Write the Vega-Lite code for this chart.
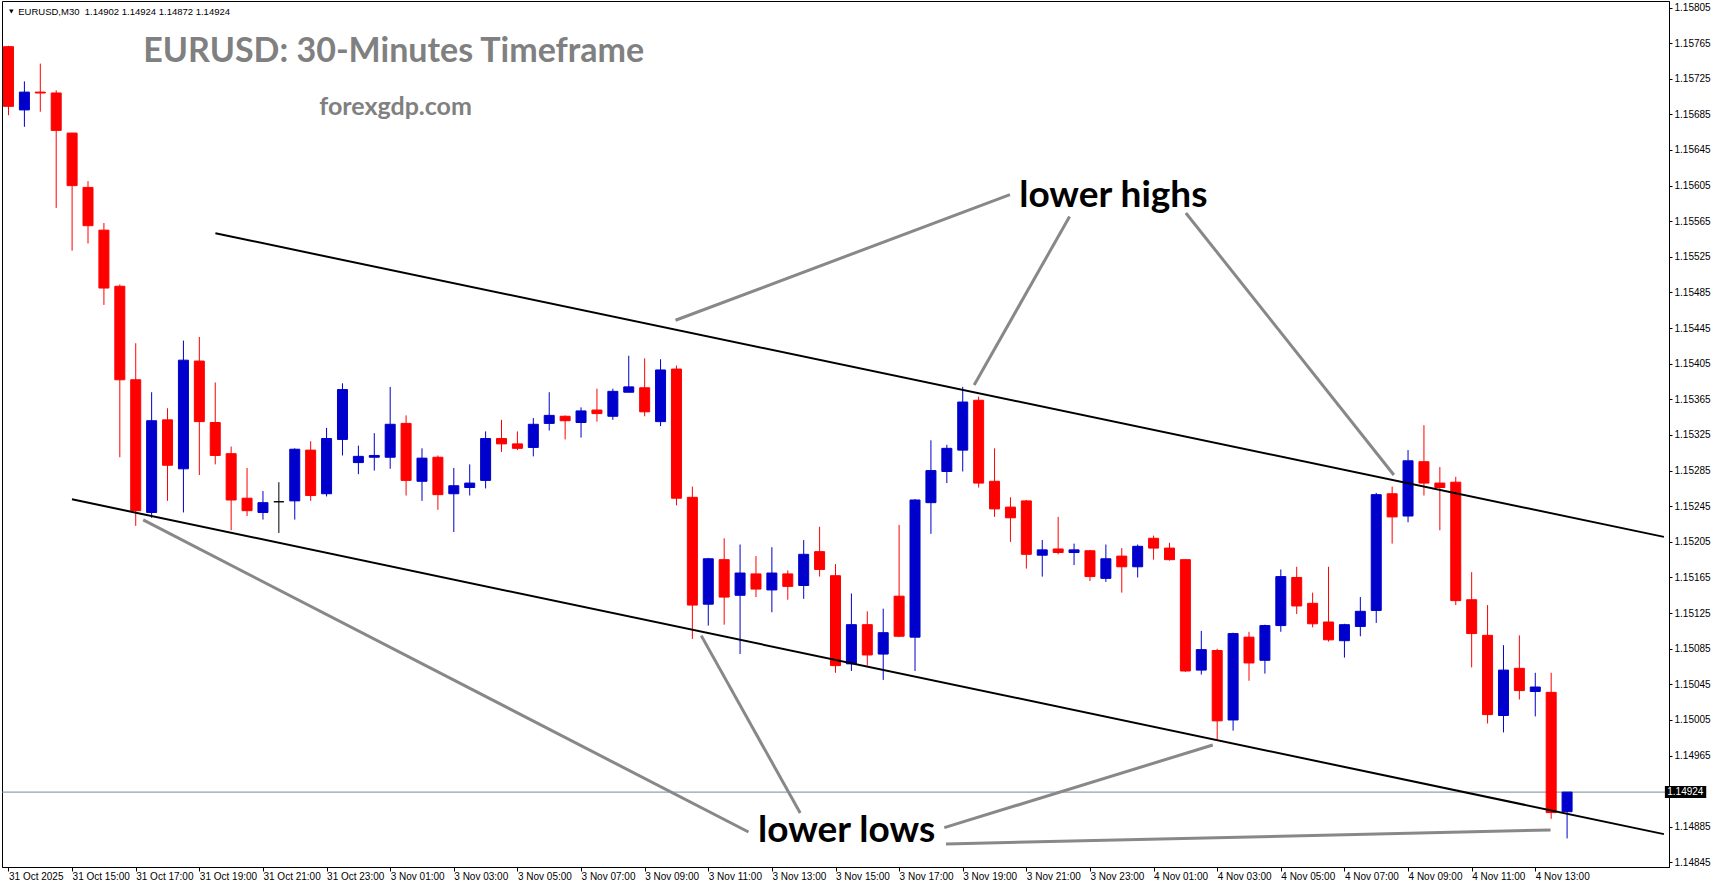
{
  "$schema": "https://vega.github.io/schema/vega-lite/v6.json",
  "width": 1667,
  "height": 866,
  "autosize": {"type": "none"},
  "padding": {"left": 2, "top": 1, "right": 45, "bottom": 21},
  "background": "#ffffff",
  "config": {
    "view": {"stroke": "#000000", "strokeWidth": 1},
    "axis": {"labelFont": "Liberation Sans", "labelFontSize": 9.5, "labelColor": "#000000", "tickColor": "#000000", "domainColor": "#000000", "grid": false, "labelOverlap": false, "labelFlush": false, "labelBound": false, "tickWidth": 1, "domainWidth": 1}
  },
  "datasets": {
    "candles": [
      {"i":0,"t":"2025-10-31 13:00","o":1.15761,"h":1.15762,"l":1.15684,"c":1.15694},
      {"i":1,"t":"2025-10-31 13:30","o":1.15690,"h":1.15722,"l":1.15671,"c":1.15710},
      {"i":2,"t":"2025-10-31 14:00","o":1.15710,"h":1.15742,"l":1.15688,"c":1.15709},
      {"i":3,"t":"2025-10-31 14:30","o":1.15709,"h":1.15712,"l":1.15580,"c":1.15667},
      {"i":4,"t":"2025-10-31 15:00","o":1.15664,"h":1.15664,"l":1.15532,"c":1.15605},
      {"i":5,"t":"2025-10-31 15:30","o":1.15603,"h":1.15610,"l":1.15540,"c":1.15560},
      {"i":6,"t":"2025-10-31 16:00","o":1.15555,"h":1.15563,"l":1.15471,"c":1.15490},
      {"i":7,"t":"2025-10-31 16:30","o":1.15492,"h":1.15494,"l":1.15300,"c":1.15387},
      {"i":8,"t":"2025-10-31 17:00","o":1.15387,"h":1.15428,"l":1.15223,"c":1.15240},
      {"i":9,"t":"2025-10-31 17:30","o":1.15238,"h":1.15373,"l":1.15232,"c":1.15341},
      {"i":10,"t":"2025-10-31 18:00","o":1.15342,"h":1.15355,"l":1.15251,"c":1.15291},
      {"i":11,"t":"2025-10-31 18:30","o":1.15287,"h":1.15431,"l":1.15238,"c":1.15409},
      {"i":12,"t":"2025-10-31 19:00","o":1.15408,"h":1.15435,"l":1.15280,"c":1.15340},
      {"i":13,"t":"2025-10-31 19:30","o":1.15339,"h":1.15384,"l":1.15292,"c":1.15302},
      {"i":14,"t":"2025-10-31 20:00","o":1.15304,"h":1.15312,"l":1.15218,"c":1.15252},
      {"i":15,"t":"2025-10-31 20:30","o":1.15254,"h":1.15288,"l":1.15234,"c":1.15240},
      {"i":16,"t":"2025-10-31 21:00","o":1.15238,"h":1.15262,"l":1.15230,"c":1.15249},
      {"i":17,"t":"2025-10-31 21:30","o":1.15250,"h":1.15272,"l":1.15215,"c":1.15250},
      {"i":18,"t":"2025-10-31 22:00","o":1.15251,"h":1.15310,"l":1.15230,"c":1.15309},
      {"i":19,"t":"2025-10-31 22:30","o":1.15308,"h":1.15318,"l":1.15251,"c":1.15257},
      {"i":20,"t":"2025-10-31 23:00","o":1.15259,"h":1.15333,"l":1.15256,"c":1.15321},
      {"i":21,"t":"2025-10-31 23:30","o":1.15320,"h":1.15383,"l":1.15302,"c":1.15376},
      {"i":22,"t":"2025-11-03 00:00","o":1.15294,"h":1.15313,"l":1.15281,"c":1.15301},
      {"i":23,"t":"2025-11-03 00:30","o":1.15300,"h":1.15327,"l":1.15285,"c":1.15302},
      {"i":24,"t":"2025-11-03 01:00","o":1.15300,"h":1.15379,"l":1.15287,"c":1.15337},
      {"i":25,"t":"2025-11-03 01:30","o":1.15338,"h":1.15347,"l":1.15257,"c":1.15274},
      {"i":26,"t":"2025-11-03 02:00","o":1.15273,"h":1.15310,"l":1.15251,"c":1.15299},
      {"i":27,"t":"2025-11-03 02:30","o":1.15300,"h":1.15302,"l":1.15241,"c":1.15258},
      {"i":28,"t":"2025-11-03 03:00","o":1.15259,"h":1.15288,"l":1.15216,"c":1.15268},
      {"i":29,"t":"2025-11-03 03:30","o":1.15266,"h":1.15292,"l":1.15257,"c":1.15271},
      {"i":30,"t":"2025-11-03 04:00","o":1.15274,"h":1.15329,"l":1.15265,"c":1.15321},
      {"i":31,"t":"2025-11-03 04:30","o":1.15321,"h":1.15342,"l":1.15306,"c":1.15315},
      {"i":32,"t":"2025-11-03 05:00","o":1.15315,"h":1.15329,"l":1.15308,"c":1.15310},
      {"i":33,"t":"2025-11-03 05:30","o":1.15311,"h":1.15344,"l":1.15301,"c":1.15337},
      {"i":34,"t":"2025-11-03 06:00","o":1.15338,"h":1.15373,"l":1.15330,"c":1.15347},
      {"i":35,"t":"2025-11-03 06:30","o":1.15346,"h":1.15347,"l":1.15320,"c":1.15341},
      {"i":36,"t":"2025-11-03 07:00","o":1.15339,"h":1.15356,"l":1.15322,"c":1.15352},
      {"i":37,"t":"2025-11-03 07:30","o":1.15353,"h":1.15377,"l":1.15340,"c":1.15349},
      {"i":38,"t":"2025-11-03 08:00","o":1.15346,"h":1.15377,"l":1.15342,"c":1.15374},
      {"i":39,"t":"2025-11-03 08:30","o":1.15373,"h":1.15414,"l":1.15373,"c":1.15379},
      {"i":40,"t":"2025-11-03 09:00","o":1.15378,"h":1.15411,"l":1.15346,"c":1.15351},
      {"i":41,"t":"2025-11-03 09:30","o":1.15340,"h":1.15410,"l":1.15335,"c":1.15398},
      {"i":42,"t":"2025-11-03 10:00","o":1.15399,"h":1.15403,"l":1.15246,"c":1.15254},
      {"i":43,"t":"2025-11-03 10:30","o":1.15255,"h":1.15267,"l":1.15096,"c":1.15134},
      {"i":44,"t":"2025-11-03 11:00","o":1.15135,"h":1.15187,"l":1.15111,"c":1.15186},
      {"i":45,"t":"2025-11-03 11:30","o":1.15185,"h":1.15209,"l":1.15112,"c":1.15143},
      {"i":46,"t":"2025-11-03 12:00","o":1.15145,"h":1.15202,"l":1.15079,"c":1.15170},
      {"i":47,"t":"2025-11-03 12:30","o":1.15169,"h":1.15189,"l":1.15143,"c":1.15152},
      {"i":48,"t":"2025-11-03 13:00","o":1.15151,"h":1.15199,"l":1.15126,"c":1.15170},
      {"i":49,"t":"2025-11-03 13:30","o":1.15169,"h":1.15173,"l":1.15140,"c":1.15155},
      {"i":50,"t":"2025-11-03 14:00","o":1.15156,"h":1.15207,"l":1.15141,"c":1.15191},
      {"i":51,"t":"2025-11-03 14:30","o":1.15194,"h":1.15222,"l":1.15166,"c":1.15174},
      {"i":52,"t":"2025-11-03 15:00","o":1.15167,"h":1.15180,"l":1.15058,"c":1.15066},
      {"i":53,"t":"2025-11-03 15:30","o":1.15068,"h":1.15147,"l":1.15060,"c":1.15112},
      {"i":54,"t":"2025-11-03 16:00","o":1.15112,"h":1.15127,"l":1.15066,"c":1.15078},
      {"i":55,"t":"2025-11-03 16:30","o":1.15079,"h":1.15130,"l":1.15050,"c":1.15103},
      {"i":56,"t":"2025-11-03 17:00","o":1.15144,"h":1.15224,"l":1.15098,"c":1.15099},
      {"i":57,"t":"2025-11-03 17:30","o":1.15098,"h":1.15253,"l":1.15060,"c":1.15252},
      {"i":58,"t":"2025-11-03 18:00","o":1.15249,"h":1.15319,"l":1.15214,"c":1.15285},
      {"i":59,"t":"2025-11-03 18:30","o":1.15284,"h":1.15314,"l":1.15271,"c":1.15310},
      {"i":60,"t":"2025-11-03 19:00","o":1.15308,"h":1.15379,"l":1.15284,"c":1.15362},
      {"i":61,"t":"2025-11-03 19:30","o":1.15364,"h":1.15368,"l":1.15266,"c":1.15271},
      {"i":62,"t":"2025-11-03 20:00","o":1.15273,"h":1.15310,"l":1.15233,"c":1.15242},
      {"i":63,"t":"2025-11-03 20:30","o":1.15244,"h":1.15255,"l":1.15205,"c":1.15232},
      {"i":64,"t":"2025-11-03 21:00","o":1.15251,"h":1.15252,"l":1.15175,"c":1.15191},
      {"i":65,"t":"2025-11-03 21:30","o":1.15190,"h":1.15207,"l":1.15166,"c":1.15196},
      {"i":66,"t":"2025-11-03 22:00","o":1.15197,"h":1.15233,"l":1.15191,"c":1.15193},
      {"i":67,"t":"2025-11-03 22:30","o":1.15193,"h":1.15203,"l":1.15179,"c":1.15196},
      {"i":68,"t":"2025-11-03 23:00","o":1.15195,"h":1.15196,"l":1.15161,"c":1.15166},
      {"i":69,"t":"2025-11-03 23:30","o":1.15164,"h":1.15202,"l":1.15160,"c":1.15186},
      {"i":70,"t":"2025-11-04 00:00","o":1.15189,"h":1.15198,"l":1.15148,"c":1.15177},
      {"i":71,"t":"2025-11-04 00:30","o":1.15177,"h":1.15202,"l":1.15165,"c":1.15200},
      {"i":72,"t":"2025-11-04 01:00","o":1.15209,"h":1.15212,"l":1.15185,"c":1.15198},
      {"i":73,"t":"2025-11-04 01:30","o":1.15198,"h":1.15204,"l":1.15184,"c":1.15185},
      {"i":74,"t":"2025-11-04 02:00","o":1.15185,"h":1.15185,"l":1.15059,"c":1.15060},
      {"i":75,"t":"2025-11-04 02:30","o":1.15061,"h":1.15105,"l":1.15056,"c":1.15084},
      {"i":76,"t":"2025-11-04 03:00","o":1.15083,"h":1.15085,"l":1.14983,"c":1.15004},
      {"i":77,"t":"2025-11-04 03:30","o":1.15005,"h":1.15103,"l":1.14993,"c":1.15102},
      {"i":78,"t":"2025-11-04 04:00","o":1.15098,"h":1.15104,"l":1.15049,"c":1.15069},
      {"i":79,"t":"2025-11-04 04:30","o":1.15072,"h":1.15112,"l":1.15057,"c":1.15111},
      {"i":80,"t":"2025-11-04 05:00","o":1.15111,"h":1.15174,"l":1.15104,"c":1.15166},
      {"i":81,"t":"2025-11-04 05:30","o":1.15165,"h":1.15177,"l":1.15124,"c":1.15133},
      {"i":82,"t":"2025-11-04 06:00","o":1.15136,"h":1.15148,"l":1.15109,"c":1.15113},
      {"i":83,"t":"2025-11-04 06:30","o":1.15115,"h":1.15177,"l":1.15093,"c":1.15095},
      {"i":84,"t":"2025-11-04 07:00","o":1.15094,"h":1.15113,"l":1.15075,"c":1.15112},
      {"i":85,"t":"2025-11-04 07:30","o":1.15110,"h":1.15143,"l":1.15099,"c":1.15127},
      {"i":86,"t":"2025-11-04 08:00","o":1.15128,"h":1.15260,"l":1.15114,"c":1.15258},
      {"i":87,"t":"2025-11-04 08:30","o":1.15259,"h":1.15267,"l":1.15203,"c":1.15233},
      {"i":88,"t":"2025-11-04 09:00","o":1.15234,"h":1.15308,"l":1.15227,"c":1.15296},
      {"i":89,"t":"2025-11-04 09:30","o":1.15295,"h":1.15336,"l":1.15257,"c":1.15271},
      {"i":90,"t":"2025-11-04 10:00","o":1.15271,"h":1.15289,"l":1.15218,"c":1.15266},
      {"i":91,"t":"2025-11-04 10:30","o":1.15272,"h":1.15278,"l":1.15134,"c":1.15139},
      {"i":92,"t":"2025-11-04 11:00","o":1.15140,"h":1.15171,"l":1.15064,"c":1.15102},
      {"i":93,"t":"2025-11-04 11:30","o":1.15100,"h":1.15134,"l":1.15001,"c":1.15011},
      {"i":94,"t":"2025-11-04 12:00","o":1.15010,"h":1.15089,"l":1.14991,"c":1.15061},
      {"i":95,"t":"2025-11-04 12:30","o":1.15063,"h":1.15100,"l":1.15028,"c":1.15038},
      {"i":96,"t":"2025-11-04 13:00","o":1.15037,"h":1.15058,"l":1.15009,"c":1.15042},
      {"i":97,"t":"2025-11-04 13:30","o":1.15036,"h":1.15058,"l":1.14894,"c":1.14901},
      {"i":98,"t":"2025-11-04 14:00","o":1.14902,"h":1.14924,"l":1.14872,"c":1.14924}
    ]
  },
  "layer": [
    {
      "data": {"name": "candles"},
      "transform": [{"filter": "datum.i == 98"}],
      "mark": {"type": "rule", "color": "#778899", "strokeWidth": 1},
      "encoding": {
        "y": {"field": "c", "type": "quantitative", "title": null,
              "scale": {"domain": [1.148399, 1.158123], "nice": false, "zero": false},
              "axis": {"orient": "right", "title": null, "format": ".5f", "tickSize": 3, "labelPadding": 2, "tickCount": 40, "labelOverlap": false, "labelBound": false, "labelFlush": false, "labelFontSize": 10,
                       "values": [1.15805,1.15765,1.15725,1.15685,1.15645,1.15605,1.15565,1.15525,1.15485,1.15445,1.15405,1.15365,1.15325,1.15285,1.15245,1.15205,1.15165,1.15125,1.15085,1.15045,1.15005,1.14965,1.14885,1.14845]}}
      }
    },
    {
      "data": {"name": "candles"},
      "mark": {"type": "rule", "strokeWidth": 1, "clip": true},
      "encoding": {
        "x": {"field": "i", "type": "quantitative", "title": null,
              "scale": {"domain": [-0.09375, 104.09375], "nice": false, "zero": false},
              "axis": {"title": null, "tickSize": 4, "labelPadding": 0, "labelAlign": "left", "labelDx": 2, "labelBaseline": "top", "labelOverlap": false, "labelFontSize": 10, "tickCount": 60,
                       "values": [0,4,8,12,16,20,24,28,32,36,40,44,48,52,56,60,64,68,72,76,80,84,88,92,96],
                       "labelExpr": "['31 Oct 2025','31 Oct 15:00','31 Oct 17:00','31 Oct 19:00','31 Oct 21:00','31 Oct 23:00','3 Nov 01:00','3 Nov 03:00','3 Nov 05:00','3 Nov 07:00','3 Nov 09:00','3 Nov 11:00','3 Nov 13:00','3 Nov 15:00','3 Nov 17:00','3 Nov 19:00','3 Nov 21:00','3 Nov 23:00','4 Nov 01:00','4 Nov 03:00','4 Nov 05:00','4 Nov 07:00','4 Nov 09:00','4 Nov 11:00','4 Nov 13:00'][round(datum.value/4)]"}},
        "y": {"field": "l", "type": "quantitative", "title": null, "scale": {"domain": [1.148399, 1.158123], "nice": false, "zero": false}},
        "y2": {"field": "h"},
        "color": {"condition": [{"test": "datum.c > datum.o", "value": "#0000cc"}, {"test": "datum.c < datum.o", "value": "#ff0000"}], "value": "#000000"}
      }
    },
    {
      "data": {"name": "candles"},
      "mark": {"type": "bar", "size": 10, "strokeWidth": 1, "clip": true},
      "encoding": {
        "x": {"field": "i", "type": "quantitative", "title": null, "scale": {"domain": [-0.09375, 104.09375], "nice": false, "zero": false}},
        "y": {"field": "o", "type": "quantitative", "title": null, "scale": {"domain": [1.148399, 1.158123], "nice": false, "zero": false}},
        "y2": {"field": "c"},
        "fill": {"condition": [{"test": "datum.c > datum.o", "value": "#0000cc"}, {"test": "datum.c < datum.o", "value": "#ff0000"}], "value": "#000000"},
        "stroke": {"condition": [{"test": "datum.c > datum.o", "value": "#0000cc"}, {"test": "datum.c < datum.o", "value": "#ff0000"}], "value": "#000000"}
      }
    },
    {
      "data": {"values": [
        {"x1": 13.01, "y1": 1.155515, "x2": 104.09, "y2": 1.152106},
        {"x1": 3.99, "y1": 1.152528, "x2": 104.09, "y2": 1.148768}
      ]},
      "mark": {"type": "rule", "color": "#000000", "strokeWidth": 2, "clip": true},
      "encoding": {
        "x": {"field": "x1", "type": "quantitative", "title": null, "scale": {"domain": [-0.09375, 104.09375], "nice": false, "zero": false}},
        "y": {"field": "y1", "type": "quantitative", "title": null, "scale": {"domain": [1.148399, 1.158123], "nice": false, "zero": false}},
        "x2": {"field": "x2"},
        "y2": {"field": "y2"}
      }
    },
    {
      "data": {"values": [
        {"x1": 62.97, "y1": 1.155949, "x2": 41.94, "y2": 1.154538},
        {"x1": 66.72, "y1": 1.155704, "x2": 60.72, "y2": 1.153811},
        {"x1": 74.03, "y1": 1.155743, "x2": 87.11, "y2": 1.152801},
        {"x1": 46.53, "y1": 1.148792, "x2": 8.47, "y2": 1.152296},
        {"x1": 49.78, "y1": 1.149006, "x2": 43.56, "y2": 1.150997},
        {"x1": 58.84, "y1": 1.148841, "x2": 75.72, "y2": 1.149769},
        {"x1": 58.95, "y1": 1.148658, "x2": 96.96, "y2": 1.148815}
      ]},
      "mark": {"type": "rule", "color": "#888888", "strokeWidth": 3, "clip": true},
      "encoding": {
        "x": {"field": "x1", "type": "quantitative", "title": null, "scale": {"domain": [-0.09375, 104.09375], "nice": false, "zero": false}},
        "y": {"field": "y1", "type": "quantitative", "title": null, "scale": {"domain": [1.148399, 1.158123], "nice": false, "zero": false}},
        "x2": {"field": "x2"},
        "y2": {"field": "y2"}
      }
    },
    {
      "data": {"values": [{"i": 0.18, "p": 1.158005}]},
      "mark": {"type": "point", "shape": "triangle-down", "filled": true, "color": "#000000", "size": 20, "opacity": 1},
      "encoding": {
        "x": {"field": "i", "type": "quantitative", "title": null, "scale": {"domain": [-0.09375, 104.09375], "nice": false, "zero": false}},
        "y": {"field": "p", "type": "quantitative", "title": null, "scale": {"domain": [1.148399, 1.158123], "nice": false, "zero": false}}
      }
    },
    {
      "data": {"values": [{"i": 0.6125, "p": 1.157966, "txt": "EURUSD,M30\u00a0 1.14902 1.14924 1.14872 1.14924"}]},
      "mark": {"type": "text", "align": "left", "baseline": "alphabetic", "font": "Liberation Sans", "fontSize": 9.5, "color": "#000000"},
      "encoding": {
        "x": {"field": "i", "type": "quantitative", "title": null, "scale": {"domain": [-0.09375, 104.09375], "nice": false, "zero": false}},
        "y": {"field": "p", "type": "quantitative", "title": null, "scale": {"domain": [1.148399, 1.158123], "nice": false, "zero": false}},
        "text": {"field": "txt"}
      }
    },
    {
      "data": {"values": [{"i": 24.22, "p": 1.157435, "txt": "EURUSD: 30-Minutes Timeframe"}]},
      "mark": {"type": "text", "align": "center", "baseline": "alphabetic", "font": "Lato", "fontWeight": "bold", "fontSize": 34, "color": "#808080"},
      "encoding": {
        "x": {"field": "i", "type": "quantitative", "title": null, "scale": {"domain": [-0.09375, 104.09375], "nice": false, "zero": false}},
        "y": {"field": "p", "type": "quantitative", "title": null, "scale": {"domain": [1.148399, 1.158123], "nice": false, "zero": false}},
        "text": {"field": "txt"}
      }
    },
    {
      "data": {"values": [{"i": 24.34, "p": 1.156843, "txt": "forexgdp.com"}]},
      "mark": {"type": "text", "align": "center", "baseline": "alphabetic", "font": "Lato", "fontWeight": "bold", "fontSize": 25, "color": "#808080"},
      "encoding": {
        "x": {"field": "i", "type": "quantitative", "title": null, "scale": {"domain": [-0.09375, 104.09375], "nice": false, "zero": false}},
        "y": {"field": "p", "type": "quantitative", "title": null, "scale": {"domain": [1.148399, 1.158123], "nice": false, "zero": false}},
        "text": {"field": "txt"}
      }
    },
    {
      "data": {"values": [
        {"i": 69.47, "p": 1.155813, "txt": "lower highs"},
        {"i": 52.70, "p": 1.148684, "txt": "lower lows"}
      ]},
      "mark": {"type": "text", "align": "center", "baseline": "alphabetic", "font": "Lato", "fontWeight": "bold", "fontSize": 37, "color": "#000000"},
      "encoding": {
        "x": {"field": "i", "type": "quantitative", "title": null, "scale": {"domain": [-0.09375, 104.09375], "nice": false, "zero": false}},
        "y": {"field": "p", "type": "quantitative", "title": null, "scale": {"domain": [1.148399, 1.158123], "nice": false, "zero": false}},
        "text": {"field": "txt"}
      }
    },
    {
      "data": {"name": "candles"},
      "transform": [{"filter": "datum.i == 98"}],
      "mark": {"type": "rule", "color": "#000000", "strokeWidth": 12, "strokeCap": "butt", "clip": false},
      "encoding": {
        "x": {"datum": 104.15, "type": "quantitative", "scale": {"domain": [-0.09375, 104.09375], "nice": false, "zero": false}},
        "x2": {"datum": 106.75},
        "y": {"field": "c", "type": "quantitative", "title": null, "scale": {"domain": [1.148399, 1.158123], "nice": false, "zero": false}}
      }
    },
    {
      "data": {"name": "candles"},
      "transform": [{"filter": "datum.i == 98"}],
      "mark": {"type": "text", "align": "left", "baseline": "middle", "font": "Liberation Sans", "fontSize": 10, "color": "#ffffff", "clip": false},
      "encoding": {
        "x": {"datum": 104.3, "type": "quantitative", "scale": {"domain": [-0.09375, 104.09375], "nice": false, "zero": false}},
        "y": {"field": "c", "type": "quantitative", "title": null, "scale": {"domain": [1.148399, 1.158123], "nice": false, "zero": false}},
        "text": {"field": "c", "format": ".5f"}
      }
    }
  ]
}
